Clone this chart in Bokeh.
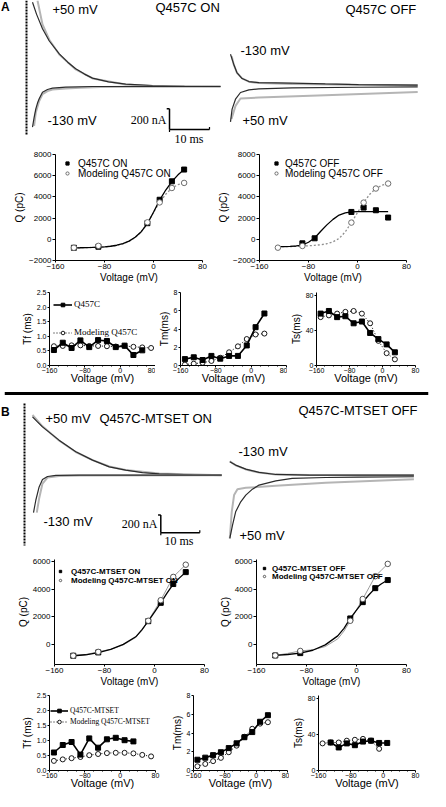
from bokeh.plotting import figure
from bokeh.layouts import column, row
from bokeh.models import (Label, Legend, LegendItem, FixedTicker, Range1d,
                          PrintfTickFormatter, Span)
from bokeh.embed import file_html
from bokeh.resources import INLINE

SANS = "Liberation Sans"
SERIF = "Liberation Serif"
TRACE = "#2b2b2b"
FIT_GRAY = "#b5b5b5"

# ======================= DATA =======================
# ---- Panel A current traces (time in ms, current in nA) ----
a_on_p50_t = [0, 1, 2.5, 4.2, 6.7, 8.8, 10.8, 13, 15, 19, 23.3, 30, 38, 47]
a_on_p50_i = [815, 700, 558, 440, 316, 235, 171, 120, 81, 45, 23, 8, 2, 0]
a_on_p50_fit_t = [1.25, 2.5, 4.2, 6.7, 10.8, 15, 23.3, 30, 47]
a_on_p50_fit_i = [832, 600, 452, 310, 165, 78, 20, 6, 0]
a_on_m130_t = [0, 0.4, 0.83, 1.25, 1.67, 2.5, 3.75, 5, 8.3, 15, 47]
a_on_m130_i = [-393, -300, -216, -160, -119, -55, -29, -16, -6, 0, 0]
a_on_m130_fit_t = [0.4, 0.83, 1.67, 2.5, 3.75, 5, 8.3, 12, 17, 25, 47]
a_on_m130_fit_i = [-380, -250, -140, -75, -45, -30, -20, -12, -6, -2, 0]
a_off_m130_t = [0, 0.8, 1.6, 2.9, 4.6, 7.1, 15.4, 23.7, 32, 46.8]
a_off_m130_i = [309, 213, 132, 74, 45, 35, 29, 22, 16, 10]
a_off_m130_fit_t = [0.3, 0.8, 1.6, 2.9, 4.6, 7.1, 15.4, 30, 46.8]
a_off_m130_fit_i = [290, 210, 130, 76, 44, 30, 22, 14, 8]
a_off_p50_t = [0, 0.4, 1.25, 2.5, 4.6, 7.1, 15.4, 32, 46.8]
a_off_p50_i = [-345, -222, -126, -61, -35, -26, -16, -10, -7]
a_off_p50_fit_t = [0.25, 1.25, 2.5, 7.1, 23.7, 46.8]
a_off_p50_fit_i = [-318, -190, -119, -110, -87, -55]

# ---- Panel B current traces ----
b_on_p50_t = [0, 1.2, 2.56, 6.8, 11.1, 15.4, 19.7, 23.9, 28.2, 32.5, 41, 48.5]
b_on_p50_i = [659, 605, 546, 396, 264, 170, 94, 57, 30, 15, 4, 0]
b_on_p50_fit_t = [0, 2.56, 6.8, 11.1, 15.4, 19.7, 23.9, 32.5, 48.5]
b_on_p50_fit_i = [680, 552, 392, 262, 170, 98, 58, 18, 0]
b_on_m130_t = [0.26, 0.85, 1.7, 2.56, 3.85, 6, 12, 48.5]
b_on_m130_i = [-422, -283, -132, -49, -15, -3, 0, 0]
b_on_m130_fit_t = [1.1, 1.7, 2.56, 3.85, 6.8, 12, 48.5]
b_on_m130_fit_i = [-422, -264, -94, -26, -8, -2, 0]
b_off_m130_t = [0, 1.5, 4.1, 7.5, 11.8, 20.3, 47.2]
b_off_m130_i = [158, 121, 75, 38, 15, 8, 8]
b_off_m130_fit_t = [0, 1.5, 4.1, 7.5, 11.8, 20.3, 47.2]
b_off_m130_fit_i = [165, 118, 72, 36, 16, 8, 6]
b_off_p50_t = [0, 0.7, 1.5, 2.8, 4.1, 5.8, 7.5, 11.8, 16, 24.6, 33, 47.2]
b_off_p50_i = [-708, -557, -407, -294, -218, -151, -105, -57, -30, -19, -15, -11]
b_off_p50_fit_t = [0, 0.5, 1.1, 1.96, 4.1, 11.8, 24.6, 47.2]
b_off_p50_fit_i = [-708, -407, -218, -151, -136, -113, -79, -38]

scale_nA = 200
scale_ms = 10

# ---- Q-V data (mV, pC) ----
qv_v = [-130, -90, -10, 10, 30, 50]
qa_on_exp = [-800, -700, 1520, 3730, 5470, 6580]
qa_on_mod = [-800, -620, 1600, 3480, 4840, 5320]
qa_off_v_exp = [-90, -70, -10, 10, 30, 50]
qa_off_exp = [-380, 95, 2580, 2990, 2740, 2050]
qa_off_mod = [-790, -630, 1575, 3460, 4790, 5260]

fit_v = [-130, -120, -110, -100, -90, -80, -70, -60, -50, -40,
         -30, -20, -10, 0, 10, 20, 30, 40, 50]
qa_on_fit_exp = [-800, -795, -785, -770, -745, -710, -655, -560, -410, -170,
                 190, 720, 1480, 2550, 3700, 4650, 5450, 6080, 6580]
qa_on_fit_mod = [-800, -795, -785, -770, -745, -715, -665, -575, -430, -200,
                 160, 700, 1520, 2550, 3480, 4250, 4840, 5150, 5320]
qa_off_fit_exp = [-690, -682, -668, -630, -540, -280, 120, 760, 1360, 1880,
                  2290, 2490, 2580, 2610, 2620, 2620, 2620, 2620, 2620]
qa_off_fit_mod = [-700, -695, -685, -670, -640, -610, -570, -510, -420, -240,
                  80, 700, 1575, 2520, 3460, 4250, 4790, 5100, 5260]

qb_on_exp = [-850, -610, 1670, 3010, 4380, 5250]
qb_on_mod = [-850, -570, 1700, 3200, 4900, 5790]
qb_off_exp = [-830, -660, 1870, 3060, 4080, 4670]
qb_off_mod = [-830, -500, 1700, 3290, 4950, 5850]
fitb_v = [-130, -110, -90, -70, -50, -30, -20, -10, 0, 10, 20, 30, 40, 50]
qb_on_fit_exp = [-850, -780, -620, -390, -20, 530, 1050, 1670, 2330, 3010, 3720, 4380, 4830, 5250]
qb_on_fit_mod = [-850, -760, -570, -380, -60, 480, 1000, 1700, 2450, 3200, 4050, 4900, 5350, 5790]
qb_off_fit_exp = [-830, -760, -660, -450, -60, 600, 1150, 1870, 2470, 3060, 3600, 4080, 4400, 4670]
qb_off_fit_mod = [-830, -680, -500, -420, -180, 380, 950, 1700, 2500, 3290, 4120, 4950, 5400, 5850]

# ---- time constants (mV, ms) ----
tau_v10 = [-150, -130, -110, -90, -70, -50, -30, -10, 10, 30]
tau_v11 = [-150, -130, -110, -90, -70, -50, -30, -10, 10, 30, 50]
tau_v12 = [-150, -130, -110, -90, -70, -50, -30, -10, 10, 30, 50, 70]
tfa_exp = [0.53, 0.78, 0.6, 0.86, 0.63, 0.87, 0.84, 0.63, 0.68, 0.36, 0.52]
tfa_mod = [0.66, 0.67, 0.69, 0.69, 0.67, 0.67, 0.66, 0.65, 0.67, 0.64, 0.62, 0.6]
tma_exp = [0.7, 0.9, 0.6, 1.05, 0.75, 1.05, 1.05, 2.2, 4.2, 5.7]
tma_mod = [0.1, 0.2, 0.3, 0.5, 0.85, 1.45, 2.1, 2.9, 3.4, 3.5]
tsa_exp = [59, 62, 55, 56, 48, 50, 37, 30, 24, 15]
tsa_mod = [55, 57, 59, 61, 62, 59, 48, 28, 14, 7]

tfb_exp = [0.6, 0.85, 0.95, 0.53, 1.07, 0.76, 1.04, 1.09, 1.01, 0.97]
tfb_mod = [0.32, 0.37, 0.41, 0.45, 0.51, 0.55, 0.58, 0.59, 0.59, 0.57, 0.52, 0.47]
tmb_exp = [1.15, 1.37, 1.64, 1.95, 2.39, 2.9, 3.55, 4.1, 5.2, 5.9]
tmb_mod = [0.45, 0.7, 1.0, 1.35, 1.95, 2.65, 3.6, 4.45, 5.0, 5.15]
tsb_v_mod = [-150, -130, -110, -90, -70, -50, -30, -10]
tsb_mod = [30, 31, 31, 33, 34, 35, 33, 24]
tsb_v_exp = [-130, -110, -90, -70, -50, -30, -10, 10]
tsb_exp = [31, 25.5, 30, 28, 32, 33, 30.5, 30.5]

v_ticks = [-160, -80, 0, 80]


# ======================= HELPERS =======================
class Geo:
    """Maps reference-pixel positions of a traces panel to data units."""
    def __init__(self, rx0, rx1, ry0, ry1, t0x, pxms, basey, napx):
        self.t0x, self.pxms, self.basey, self.napx = t0x, pxms, basey, napx
        self.xr = ((rx0 - t0x) / pxms, (rx1 - t0x) / pxms)
        self.yr = ((basey - ry1) * napx, (basey - ry0) * napx)
        self.w = rx1 - rx0
        self.h = ry1 - ry0

    def t(self, rx):
        return (rx - self.t0x) / self.pxms

    def i(self, ry):
        return (self.basey - ry) * self.napx


def trace_fig(g):
    p = figure(width=g.w, height=g.h, x_range=Range1d(*g.xr), y_range=Range1d(*g.yr),
               output_backend="svg", toolbar_location=None, title=None, tools="",
               x_axis_location=None, y_axis_location=None, min_border=0,
               outline_line_color=None)
    p.grid.visible = False
    return p


def draw_trace(p, t, i, ft, fi):
    p.line(ft, fi, line_color=FIT_GRAY, line_width=2)
    p.line(t, i, line_color=TRACE, line_width=1.2)


def lab(p, g, rx, ry, text, size="13px", font=SANS, align="left", style="normal"):
    p.add_layout(Label(x=g.t(rx), y=g.i(ry), text=text, text_font=font,
                       text_font_size=size, text_align=align,
                       text_baseline="middle", text_font_style=style,
                       text_color="black"))


def scale_bar(p, t0, i0, g):
    cap_t = 0.7
    p.line([t0, t0], [i0, i0 + scale_nA], line_color="black", line_width=1.5)
    p.line([t0 - cap_t, t0], [i0 + scale_nA, i0 + scale_nA], line_color="black", line_width=1.5)
    p.line([t0, t0 + scale_ms], [i0, i0], line_color="black", line_width=1.5)
    p.line([t0 + scale_ms, t0 + scale_ms], [i0, i0 + 2.5 * g.napx], line_color="black", line_width=1.2)
    p.line([t0, t0], [i0, i0 - 2.5 * g.napx], line_color="black", line_width=1.2)


def base_fig(w, h, xr, yr, ml, mr, mt, mb, xlabel, ylabel):
    p = figure(width=w, height=h, x_range=Range1d(*xr), y_range=Range1d(*yr),
               output_backend="svg", toolbar_location=None, title=None, tools="",
               min_border_left=ml, min_border_right=mr, min_border_top=mt,
               min_border_bottom=mb, outline_line_color=None,
               x_axis_label=xlabel, y_axis_label=ylabel)
    p.grid.visible = False
    for ax in p.axis:
        ax.axis_line_color = "black"
        ax.axis_line_width = 1
        ax.major_tick_line_color = "black"
        ax.minor_tick_line_color = "black"
        ax.major_tick_in = 0
        ax.minor_tick_in = 0
        ax.major_tick_out = 3
        ax.minor_tick_out = 0
        ax.major_label_standoff = 1
        ax.axis_label_standoff = 1
        ax.major_label_text_font = SANS
        ax.axis_label_text_font = SANS
        ax.axis_label_text_font_style = "normal"
        ax.major_label_text_color = "black"
        ax.axis_label_text_color = "black"
    return p


def qv_fig(w, h, ml, mr, mt, mb, yr, yticks):
    p = base_fig(w, h, (-160, 80), yr, ml, mr, mt, mb, "Voltage (mV)", "Q (pC)")
    p.xaxis.ticker = FixedTicker(ticks=v_ticks)
    p.yaxis.ticker = FixedTicker(ticks=yticks)
    for ax in p.axis:
        ax.major_label_text_font_size = "8px"
        ax.axis_label_text_font_size = "10px"
    p.xaxis.major_tick_out = 2
    p.xaxis.axis_label_standoff = 0
    return p


def tau_fig(w, h, ml, mr, mt, mb, ymax, yticks, ylabel, fmt=None):
    p = base_fig(w, h, (-160, 80), (0, ymax), ml, mr, mt, mb, "Voltage (mV)", ylabel)
    p.xaxis.ticker = FixedTicker(ticks=v_ticks, minor_ticks=[-140, -120, -100, -60, -40, -20, 20, 40, 60])
    p.yaxis.ticker = FixedTicker(ticks=yticks)
    if fmt:
        p.yaxis.formatter = PrintfTickFormatter(format=fmt)
    for ax in p.axis:
        ax.major_label_text_font_size = "7px"
        ax.major_tick_out = 2
    p.xaxis.minor_tick_out = 1
    p.xaxis.major_label_standoff = 0
    p.xaxis.axis_label_text_font_size = "11px"
    p.xaxis.axis_label_standoff = -4
    p.yaxis.axis_label_text_font_size = "10px"
    p.yaxis.axis_label_standoff = 1
    return p


def legend_rows(p, entries, gw, standoff, font, size, style="normal", gh=20):
    """One single-item legend per row so the row positions can be set freely.
    entries: (label, renderers, vx, vy) with (vx, vy) the legend's screen offset."""
    for label, rends, vx, vy in entries:
        leg = Legend(items=[LegendItem(label=label, renderers=rends)], location=(vx, vy),
                     margin=0, padding=0, spacing=0, glyph_width=gw, glyph_height=gh,
                     label_height=gh, label_standoff=standoff, label_text_font=font,
                     label_text_font_size=size, label_text_font_style=style,
                     label_text_color="black",
                     background_fill_alpha=0, border_line_alpha=0)
        p.add_layout(leg)


def tau_series(p, v_e, y_e, v_m, y_m, msize=5):
    lm = p.line(v_m, y_m, line_color="black", line_width=1, line_dash="1 2")
    sm = p.scatter(v_m, y_m, marker="circle", size=msize, fill_color="white",
                   line_color="black", line_width=0.9)
    le = p.line(v_e, y_e, line_color="black", line_width=1.6)
    se = p.scatter(v_e, y_e, marker="square", size=msize, fill_color="black",
                   line_color="black")
    return [le, se], [lm, sm]


# ======================= PANEL A TRACES =======================
ga_on = Geo(8, 233, 8, 154, 40, 4.0, 94, 9.67)
ga_off = Geo(233, 438, 8, 154, 238, 4.0, 93.7, 9.67)
a_on = trace_fig(ga_on)
a_off = trace_fig(ga_off)

a_on.line([ga_on.t(34), ga_on.t(34)], [ga_on.i(5), ga_on.i(143)], line_color="black",
          line_width=2, line_dash="2 1")
draw_trace(a_on, a_on_p50_t, a_on_p50_i, a_on_p50_fit_t, a_on_p50_fit_i)
draw_trace(a_on, a_on_m130_t, a_on_m130_i, a_on_m130_fit_t, a_on_m130_fit_i)
draw_trace(a_off, a_off_m130_t, a_off_m130_i, a_off_m130_fit_t, a_off_m130_fit_i)
draw_trace(a_off, a_off_p50_t, a_off_p50_i, a_off_p50_fit_t, a_off_p50_fit_i)
scale_bar(a_on, ga_on.t(177), ga_on.i(137), ga_on)

lab(a_on, ga_on, 8.5, 14, "A", size="12px", style="bold")
lab(a_on, ga_on, 60, 17, "+50 mV")
lab(a_on, ga_on, 163, 15, "Q457C ON")
lab(a_on, ga_on, 55, 128, "-130 mV")
lab(a_on, ga_on, 174, 127, "200 nA", size="12px", font=SERIF, align="right")
lab(a_on, ga_on, 182, 146, "10 ms", size="12px", font=SERIF)
lab(a_off, ga_off, 353, 17, "Q457C OFF")
lab(a_off, ga_off, 248, 58, "-130 mV")
lab(a_off, ga_off, 250, 128, "+50 mV")

# ======================= PANEL A Q-V =======================
qa_on_p = qv_fig(210, 139, 55, 8, 8, 25, (-2000, 8000), [-2000, 0, 2000, 4000, 6000, 8000])
qa_on_p.line(fit_v, qa_on_fit_mod, line_color="#8f8f8f", line_width=1.3, line_dash="2 2")
qa_on_p.line(fit_v, qa_on_fit_exp, line_color="black", line_width=1.3)
s1 = qa_on_p.scatter(qv_v, qa_on_exp, marker="square", size=5, fill_color="black", line_color="black")
c1 = qa_on_p.scatter(qv_v, qa_on_mod, marker="circle", size=5.5, fill_color="white",
                     line_color="#6e6e6e", line_width=1)
legend_rows(qa_on_p, [("Q457C ON", [s1], 8, 87),
                      ("Modeling Q457C ON", [c1], 8, 77)], 8, 7, SANS, "10px")

qa_off_p = qv_fig(220, 139, 49, 24, 8, 25, (-2000, 8000), [-2000, 0, 2000, 4000, 6000, 8000])
qa_off_p.line(fit_v, qa_off_fit_mod, line_color="#8f8f8f", line_width=1.3, line_dash="2 2")
qa_off_p.line(fit_v, qa_off_fit_exp, line_color="black", line_width=1.3)
s2 = qa_off_p.scatter(qa_off_v_exp, qa_off_exp, marker="square", size=5, fill_color="black", line_color="black")
c2 = qa_off_p.scatter(qv_v, qa_off_mod, marker="circle", size=5.5, fill_color="white",
                      line_color="#6e6e6e", line_width=1)
legend_rows(qa_off_p, [("Q457C OFF", [s2], 13, 87),
                       ("Modeling Q457C OFF", [c2], 13, 77)], 8, 5, SANS, "10px")

# ======================= PANEL A TIME CONSTANTS =======================
tfa = tau_fig(155, 101, 49, 0, 7, 18, 2.5, [0, 0.5, 1.0, 1.5, 2.0, 2.5], "Tf (ms)", "%.1f")
e1, m1 = tau_series(tfa, tau_v11, tfa_exp, tau_v12, tfa_mod)
legend_rows(tfa, [("Q457C", e1, 4, 56),
                  ("Modeling Q457C", m1, 4, 28)], 19, 2, SERIF, "9px", gh=9)
tma = tau_fig(132, 101, 20, 1, 7, 18, 8, [0, 2, 4, 6, 8], "Tm(ms)")
tau_series(tma, tau_v10, tma_exp, tau_v10, tma_mod)
tsa = tau_fig(143, 101, 22, 15, 7, 18, 83, [0, 40, 80], "Ts(ms)")
tau_series(tsa, tau_v10, tsa_exp, tau_v10, tsa_mod)

# ======================= DIVIDER =======================
div_p = figure(width=430, height=10, x_range=Range1d(0, 1), y_range=Range1d(0, 1),
               output_backend="svg", toolbar_location=None, title=None, tools="",
               x_axis_location=None, y_axis_location=None, min_border_left=4,
               min_border_right=2, min_border_top=0, min_border_bottom=0,
               outline_line_color=None)
div_p.grid.visible = False
div_p.add_layout(Span(location=0.5, dimension="width", line_color="black", line_width=3))

# ======================= PANEL B TRACES =======================
gb_on = Geo(8, 233, 408, 558, 40, 3.9, 486.7, 11.3)
gb_off = Geo(233, 438, 408, 558, 237.3, 3.9, 487.3, 11.3)
b_on = trace_fig(gb_on)
b_off = trace_fig(gb_off)
b_on.line([gb_on.t(32), gb_on.t(32)], [gb_on.i(415), gb_on.i(557)], line_color="black",
          line_width=2, line_dash="2 1")
draw_trace(b_on, b_on_p50_t, b_on_p50_i, b_on_p50_fit_t, b_on_p50_fit_i)
draw_trace(b_on, b_on_m130_t, b_on_m130_i, b_on_m130_fit_t, b_on_m130_fit_i)
draw_trace(b_off, b_off_m130_t, b_off_m130_i, b_off_m130_fit_t, b_off_m130_fit_i)
draw_trace(b_off, b_off_p50_t, b_off_p50_i, b_off_p50_fit_t, b_off_p50_fit_i)
scale_bar(b_on, gb_on.t(168.3), gb_on.i(544.3), gb_on)

lab(b_on, gb_on, 8.5, 423, "B", size="12px", style="bold")
lab(b_on, gb_on, 53, 430, "+50 mV")
lab(b_on, gb_on, 107, 430, "Q457C-MTSET ON")
lab(b_on, gb_on, 51, 533, "-130 mV")
lab(b_on, gb_on, 165, 535, "200 nA", size="12px", font=SERIF, align="right")
lab(b_on, gb_on, 172, 552, "10 ms", size="12px", font=SERIF)
lab(b_off, gb_off, 306, 422, "Q457C-MTSET OFF")
lab(b_off, gb_off, 246, 463, "-130 mV")
lab(b_off, gb_off, 247, 547, "+50 mV")

# ======================= PANEL B Q-V =======================
qb_on_p = qv_fig(212, 143, 54, 8, 13, 22, (-1490, 6170), [0, 2000, 4000, 6000])
qb_on_p.line(fitb_v, qb_on_fit_mod, line_color="#9a9a9a", line_width=1)
qb_on_p.line(fitb_v, qb_on_fit_exp, line_color="black", line_width=1.3)
s3 = qb_on_p.scatter(qv_v, qb_on_exp, marker="square", size=5, fill_color="black", line_color="black")
c3 = qb_on_p.scatter(qv_v, qb_on_mod, marker="circle", size=5.5, fill_color="white",
                     line_color="#555555", line_width=1)
legend_rows(qb_on_p, [("Q457C-MTSET ON", [s3], 3, 83),
                      ("Modeling Q457C-MTSET ON", [c3], 3, 74)], 6, 8, SANS, "8px", "bold")

qb_off_p = qv_fig(218, 143, 44, 24, 13, 22, (-1490, 6170), [0, 2000, 4000, 6000])
qb_off_p.line(fitb_v, qb_off_fit_mod, line_color="#9a9a9a", line_width=1)
qb_off_p.line(fitb_v, qb_off_fit_exp, line_color="black", line_width=1.3)
s4 = qb_off_p.scatter(qv_v, qb_off_exp, marker="square", size=5, fill_color="black", line_color="black")
c4 = qb_off_p.scatter(qv_v, qb_off_mod, marker="circle", size=5.5, fill_color="white",
                      line_color="#555555", line_width=1)
legend_rows(qb_off_p, [("Q457C-MTSET OFF", [s4], 5, 86),
                       ("Modeling Q457C-MTSET OFF", [c4], 5, 78)], 6, 5, SANS, "8px", "bold")

# ======================= PANEL B TIME CONSTANTS =======================
tfb = tau_fig(168, 102, 49, 13, 6, 18, 2.5, [0, 0.5, 1.0, 1.5, 2.0, 2.5], "Tf (ms)", "%.1f")
e2, m2 = tau_series(tfb, tau_v10, tfb_exp, tau_v12, tfb_mod)
legend_rows(tfb, [("Q457C-MTSET", e2, 1, 55),
                  ("Modeling Q457C-MTSET", m2, 1, 44)], 18, 2, SERIF, "7.5px", gh=9)
tmb = tau_fig(121, 102, 14, 2, 6, 18, 8, [0, 2, 4, 6, 8], "Tm(ms)")
tau_series(tmb, tau_v10, tmb_exp, tau_v10, tmb_mod)
tsb = tau_fig(141, 102, 20, 15, 6, 18, 83, [0, 40, 80], "Ts(ms)")
tau_series(tsb, tsb_v_exp, tsb_exp, tsb_v_mod, tsb_mod)

layout = column(
    row(a_on, a_off),
    row(qa_on_p, qa_off_p),
    row(tfa, tma, tsa),
    div_p,
    row(b_on, b_off),
    row(qb_on_p, qb_off_p),
    row(tfb, tmb, tsb),
)

open("out.html", "w").write(file_html(layout, INLINE))
